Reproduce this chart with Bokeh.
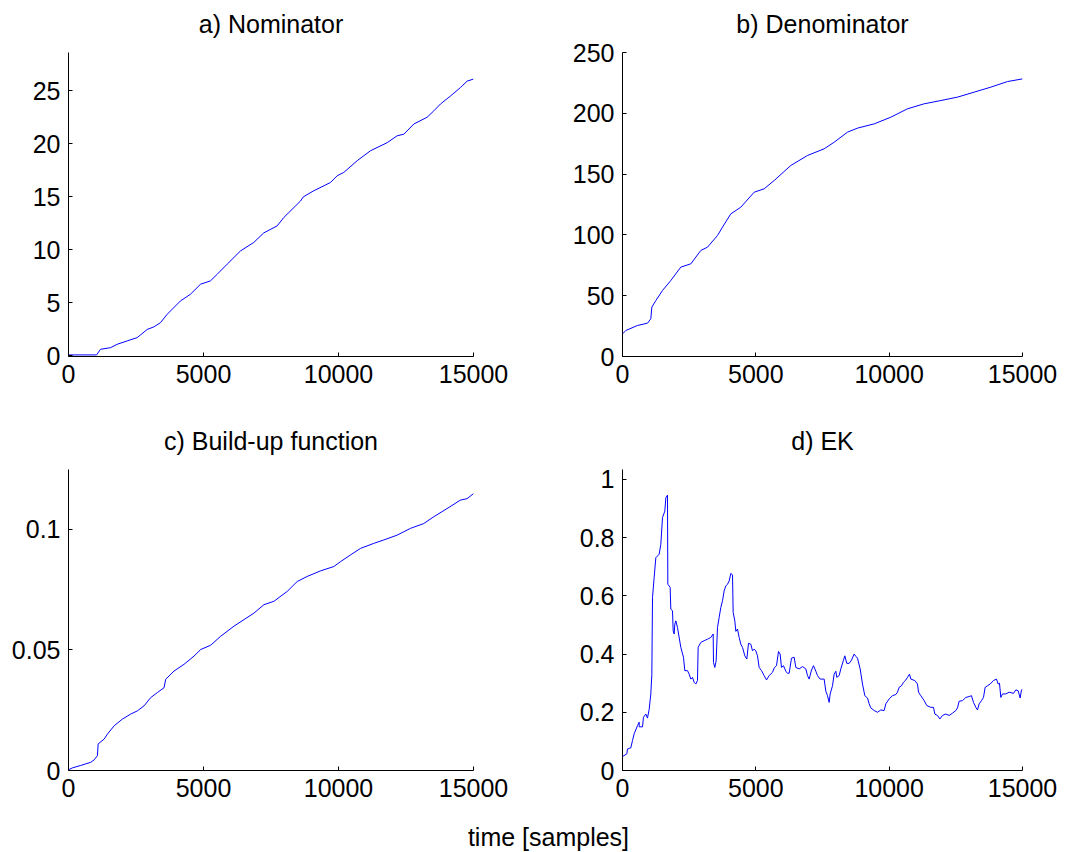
from bokeh.plotting import figure
from bokeh.layouts import column, row
from bokeh.models import Div, FixedTicker, Range1d
from bokeh.embed import file_html
from bokeh.resources import INLINE

# ---- data ----
x_ticks = [0, 5000, 10000, 15000]

nom_x = [0, 1040, 1185, 1556, 1802, 2174, 2543, 2667, 2914, 3160, 3407, 3655, 4148, 4519,
         4889, 5259, 5506, 5877, 6370, 6862, 7233, 7728, 7975, 8592, 8700, 9085, 9703,
         9950, 10197, 10690, 10937, 11185, 11802, 12172, 12420, 12790, 13283, 13530,
         13778, 14148, 14518, 14765, 15000]
nom_y = [0.1, 0.1, 0.63, 0.78, 1.1, 1.42, 1.73, 1.98, 2.5, 2.74, 3.14, 3.93, 5.19, 5.82,
         6.76, 7.08, 7.7, 8.65, 9.9, 10.7, 11.6, 12.26, 13.05, 14.6, 15.0, 15.57, 16.35,
         16.98, 17.3, 18.4, 18.87, 19.34, 20.1, 20.75, 20.9, 21.86, 22.5, 23.1,
         23.75, 24.5, 25.3, 25.9, 26.1]

den_x = [0, 1, 125, 562, 937, 1062, 1100, 1250, 1500, 1812, 2187, 2562, 2937, 3187, 3562,
         3750, 4062, 4437, 4937, 5312, 5687, 6312, 6937, 7562, 7937, 8437, 8812, 9437,
         10062, 10687, 11312, 11937, 12562, 13187, 13812, 14437, 15000]
den_y = [0, 18.6, 21.4, 25.5, 27.4, 31, 40.6, 46, 54.3, 62.5, 73.5, 76.2, 87.2, 89.9, 99.5,
         106.4, 117.3, 122.8, 135.1, 137.9, 144.7, 157.1, 165.3, 170.8, 176.2, 184.5, 187.8,
         191.3, 196.8, 203.7, 207.8, 210.5, 213.3, 217.4, 221.5, 226.1, 228.3]

bu_x = [0, 148, 456, 826, 949, 1073, 1097, 1319, 1443, 1689, 1997, 2306, 2552, 2799, 3045,
        3292, 3539, 3600, 3909, 4279, 4649, 4895, 5265, 5635, 6128, 6498, 6868, 7238, 7608,
        8101, 8471, 8841, 9334, 9827, 10074, 10444, 10814, 11307, 11677, 12170, 12663,
        13156, 13526, 14019, 14512, 14759, 15000]
bu_y = [0.0003, 0.0011, 0.0021, 0.0034, 0.0044, 0.0062, 0.011, 0.013, 0.0151, 0.0185,
        0.0213, 0.0234, 0.0247, 0.0268, 0.0302, 0.0323, 0.0343, 0.0378, 0.0412, 0.044,
        0.0474, 0.0501, 0.0519, 0.0556, 0.0598, 0.0625, 0.0652, 0.0687, 0.0701, 0.0742,
        0.0783, 0.0804, 0.0827, 0.0845, 0.0865, 0.0893, 0.092, 0.0941, 0.0955, 0.0975,
        0.1003, 0.1023, 0.1051, 0.1085, 0.112, 0.1126, 0.1147]

ek_x = [0, 1, 162, 187, 312, 375, 437, 562, 625, 626, 750, 787, 875, 937, 1000, 1062, 1100,
        1125, 1187, 1250, 1375, 1437, 1500, 1587, 1625, 1687, 1700, 1787, 1812, 1875, 1900,
        1937, 1962, 2000, 2062, 2187, 2287, 2337, 2437, 2500, 2562, 2625, 2687, 2750, 2812,
        2837, 2937, 3062, 3187, 3312, 3400, 3412, 3462, 3512, 3562, 3625, 3687, 3750, 3812,
        3875, 3937, 4000, 4062, 4125, 4150, 4212, 4250, 4312, 4375, 4437, 4500, 4587, 4662,
        4725, 4812, 4875, 4937, 5000, 5062, 5125, 5212, 5312, 5400, 5500, 5625, 5687, 5775,
        5850, 5912, 5962, 6037, 6125, 6187, 6250, 6337, 6437, 6500, 6625, 6750, 6875, 6937,
        7000, 7087, 7162, 7250, 7312, 7412, 7562, 7625, 7687, 7750, 7787, 7875, 7937, 8000,
        8037, 8125, 8187, 8287, 8337, 8412, 8500, 8587, 8687, 8762, 8812, 8912, 9000, 9087,
        9187, 9250, 9312, 9437, 9562, 9687, 9812, 9875, 10000, 10125, 10250, 10312, 10375,
        10462, 10537, 10625, 10687, 10762, 10812, 10962, 11062, 11100, 11187, 11312, 11412,
        11562, 11662, 11712, 11812, 11900, 12000, 12125, 12250, 12375, 12500, 12562, 12625,
        12750, 12875, 13000, 13087, 13162, 13250, 13312, 13375, 13462, 13537, 13600, 13687,
        13787, 13912, 14025, 14087, 14137, 14187, 14250, 14375, 14500, 14662, 14750, 14837,
        14912, 14962, 15000]
ek_y = [0, 0.048, 0.057, 0.074, 0.078, 0.103, 0.126, 0.154, 0.166, 0.15, 0.15, 0.183,
        0.194, 0.18, 0.21, 0.263, 0.33, 0.594, 0.663, 0.731, 0.743, 0.777, 0.869, 0.891,
        0.937, 0.946, 0.64, 0.629, 0.554, 0.549, 0.48, 0.469, 0.503, 0.514, 0.491, 0.423,
        0.389, 0.343, 0.343, 0.331, 0.314, 0.32, 0.303, 0.297, 0.309, 0.423, 0.44, 0.446,
        0.451, 0.457, 0.469, 0.371, 0.354, 0.377, 0.491, 0.526, 0.56, 0.583, 0.617, 0.634,
        0.64, 0.651, 0.677, 0.672, 0.543, 0.514, 0.478, 0.486, 0.457, 0.434, 0.423, 0.394,
        0.383, 0.437, 0.434, 0.411, 0.417, 0.411, 0.394, 0.354, 0.343, 0.326, 0.311, 0.326,
        0.337, 0.352, 0.36, 0.409, 0.4, 0.354, 0.36, 0.341, 0.334, 0.334, 0.386, 0.389,
        0.354, 0.349, 0.357, 0.349, 0.326, 0.314, 0.345, 0.36, 0.341, 0.326, 0.314, 0.314,
        0.272, 0.257, 0.234, 0.263, 0.291, 0.331, 0.341, 0.32, 0.326, 0.349, 0.379, 0.394,
        0.368, 0.368, 0.379, 0.4, 0.391, 0.386, 0.349, 0.297, 0.257, 0.249, 0.229, 0.215,
        0.206, 0.2, 0.208, 0.206, 0.229, 0.246, 0.257, 0.261, 0.269, 0.286, 0.291, 0.303,
        0.311, 0.32, 0.331, 0.314, 0.309, 0.297, 0.269, 0.257, 0.24, 0.223, 0.217, 0.217,
        0.194, 0.189, 0.177, 0.189, 0.194, 0.189, 0.197, 0.206, 0.215, 0.238, 0.24, 0.251,
        0.254, 0.257, 0.234, 0.217, 0.208, 0.229, 0.24, 0.251, 0.286, 0.291, 0.297, 0.309,
        0.314, 0.297, 0.3, 0.251, 0.263, 0.263, 0.269, 0.265, 0.277, 0.274, 0.249, 0.277,
        0.279]

titles = ["a) Nominator", "b) Denominator", "c) Build-up function", "d) EK"]
xlabel = "time [samples]"

nom_yticks = [0, 5, 10, 15, 20, 25]
den_yticks = [0, 50, 100, 150, 200, 250]
bu_yticks = [0, 0.05, 0.1]
bu_ylabels = {0: "0", 0.05: "0.05", 0.1: "0.1"}
ek_yticks = [0, 0.2, 0.4, 0.6, 0.8, 1]
ek_ylabels = {0: "0", 0.2: "0.2", 0.4: "0.4", 0.6: "0.6", 0.8: "0.8", 1: "1"}

FONT = "Liberation Sans"


def make_panel(title, xs, ys, yrange, yticks, width, height, left, right, top, bottom,
               ylabels=None):
    p = figure(width=width, height=height, output_backend="svg", toolbar_location=None,
               x_range=Range1d(0, 15000), y_range=Range1d(*yrange),
               min_border_left=left, min_border_right=right,
               min_border_top=top, min_border_bottom=bottom, title=title)
    p.title.align = "center"
    p.title.text_font = FONT
    p.title.text_font_size = "25px"
    p.title.text_font_style = "normal"
    p.title.text_color = "black"
    p.title.standoff = 29
    p.outline_line_color = None
    p.grid.visible = False
    p.background_fill_color = "white"
    p.border_fill_color = "white"
    p.line(xs, ys, line_color="#0000FF", line_width=1)
    p.xaxis.ticker = FixedTicker(ticks=x_ticks)
    p.yaxis.ticker = FixedTicker(ticks=yticks)
    if ylabels:
        p.yaxis.major_label_overrides = ylabels
    for ax in (p.xaxis[0], p.yaxis[0]):
        ax.axis_line_color = "black"
        ax.axis_line_width = 1
        ax.major_tick_in = 4
        ax.major_tick_out = 0
        ax.minor_tick_line_color = None
        ax.major_tick_line_color = "black"
        ax.major_label_text_font = FONT
        ax.major_label_text_font_size = "25px"
        ax.major_label_text_color = "black"
        ax.major_label_standoff = 8
    return p


pa = make_panel(titles[0], nom_x, nom_y, (-0.05, 28.6), nom_yticks, 540, 418, 68, 67, 60, 54)
pb = make_panel(titles[1], den_x, den_y, (0, 250), den_yticks, 531, 418, 82, 49, 60, 54)
pc = make_panel(titles[2], bu_x, bu_y, (0, 0.1247), bu_yticks, 540, 400, 68, 67, 58, 40,
                ylabels=bu_ylabels)
pd = make_panel(titles[3], ek_x, ek_y, (0, 1.034), ek_yticks, 531, 400, 82, 49, 58, 40,
                ylabels=ek_ylabels)

lab = Div(text=f'<div style="margin-left:26px;width:1045px;text-align:center;'
               f'font-family:{FONT};font-size:25px;line-height:28px;color:black;'
               f'padding-top:13px;">{xlabel}</div>',
          width=1071, height=42, margin=(0, 0, 0, 0))

layout = column(row(pa, pb, margin=(-8, 0, 0, 0)), row(pc, pd), lab)

open("out.html", "w").write(file_html(layout, INLINE))
